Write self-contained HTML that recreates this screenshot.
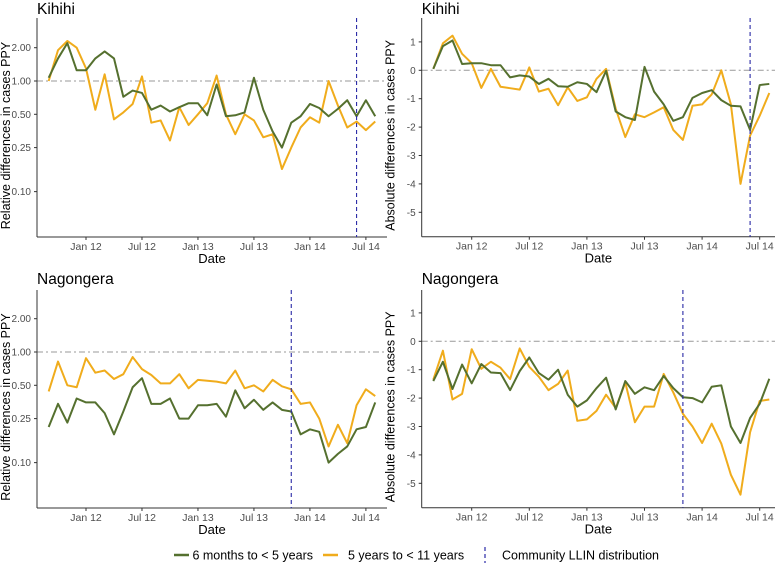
<!DOCTYPE html>
<html><head><meta charset="utf-8"><style>
body{margin:0;background:#fff}
svg{display:block;font-family:"Liberation Sans",Arial,sans-serif}
</style></head><body>
<svg id="chart" width="783" height="565" viewBox="0 0 783 565" xmlns="http://www.w3.org/2000/svg"></svg>
<script>
// months from Sep 2011 (index 0) to Aug 2014 (index 35)
const tickLabels = ["Jan 12","Jul 12","Jan 13","Jul 13","Jan 14","Jul 14"];
const tickMonths = [4,10,16,22,28,34];
const relTicks = [2.00,1.00,0.50,0.25,0.10];
const absTicks = [1,0,-1,-2,-3,-4,-5];
const kihihiRelYoung = [1.07,1.6,2.2,1.25,1.25,1.6,1.85,1.6,0.72,0.82,0.78,0.55,0.6,0.53,0.58,0.63,0.63,0.49,0.93,0.48,0.49,0.52,1.07,0.55,0.35,0.25,0.42,0.48,0.62,0.57,0.48,0.56,0.67,0.48,0.67,0.48];
const kihihiRelOld = [1.0,1.9,2.3,2.0,1.3,0.55,1.15,0.45,0.52,0.62,1.1,0.42,0.44,0.29,0.58,0.4,0.5,0.63,1.12,0.5,0.33,0.5,0.44,0.31,0.33,0.16,0.25,0.38,0.47,0.42,1.0,0.6,0.38,0.43,0.36,0.43];
const kihihiAbsYoung = [0.05,0.85,1.05,0.22,0.25,0.25,0.18,0.18,-0.25,-0.18,-0.22,-0.48,-0.3,-0.56,-0.58,-0.42,-0.48,-0.77,-0.02,-1.45,-1.65,-1.75,0.12,-0.75,-1.2,-1.78,-1.65,-0.97,-0.8,-0.7,-1.05,-1.25,-1.27,-2.1,-0.52,-0.48];
const kihihiAbsOld = [0.05,0.95,1.22,0.58,0.25,-0.62,0.05,-0.58,-0.63,-0.68,0.1,-0.75,-0.65,-1.23,-0.6,-1.08,-0.95,-0.3,0.05,-1.35,-2.35,-1.55,-1.65,-1.48,-1.3,-2.1,-2.45,-1.25,-1.2,-0.85,0,-1.2,-4.0,-2.3,-1.6,-0.8];
const nagRelYoung = [0.21,0.34,0.23,0.38,0.35,0.35,0.28,0.18,0.29,0.48,0.58,0.34,0.34,0.38,0.25,0.25,0.33,0.33,0.34,0.26,0.45,0.31,0.37,0.3,0.35,0.3,0.29,0.18,0.2,0.19,0.1,0.12,0.14,0.2,0.21,0.35];
const nagRelOld = [0.44,0.82,0.5,0.48,0.88,0.65,0.68,0.57,0.63,0.9,0.7,0.62,0.52,0.52,0.63,0.47,0.56,0.55,0.54,0.52,0.68,0.47,0.5,0.44,0.56,0.49,0.46,0.34,0.35,0.25,0.14,0.22,0.15,0.33,0.46,0.4];
const nagAbsYoung = [-1.4,-0.72,-1.68,-0.82,-1.48,-0.8,-1.1,-1.12,-1.72,-1.05,-0.57,-1.12,-1.35,-1.0,-1.88,-2.3,-2.08,-1.65,-1.28,-2.4,-1.4,-1.85,-1.62,-1.72,-1.22,-1.65,-1.97,-2.0,-2.15,-1.6,-1.55,-3.0,-3.58,-2.7,-2.2,-1.32];
const nagAbsOld = [-1.35,-0.33,-2.05,-1.85,-0.28,-0.97,-0.72,-0.93,-1.33,-0.25,-0.9,-1.25,-1.72,-1.5,-1.03,-2.8,-2.75,-2.45,-1.88,-2.35,-1.45,-2.85,-2.3,-2.3,-1.15,-1.8,-2.55,-3.0,-3.58,-2.9,-3.6,-4.7,-5.4,-3.2,-2.1,-2.05];
const llinMonthKihihi = 33;
const llinMonthNag = 26;

const NS="http://www.w3.org/2000/svg";
const svg=document.getElementById('chart');
function mk(tag,attrs,parent){const e=document.createElementNS(NS,tag);for(const k in attrs)e.setAttribute(k,attrs[k]);(parent||svg).appendChild(e);return e;}
const GREEN="#55702f", ORANGE="#f0ac1c";

function panel(o){
  const g=mk('g',{});
  
  
  const xs=m=>o.x0+(m-4)*o.mx;
  const ys=o.log?(v=>o.y1-Math.log2(v)*o.uy):(v=>o.y0-v*o.uy);
  const t=mk('text',{x:o.ax,y:o.titleY,'font-size':15.5,fill:'#000'},g);t.textContent=o.title;
  
  const rl=mk('line',{x1:o.ax,x2:o.right,y1:o.log?ys(1):ys(0),y2:o.log?ys(1):ys(0),stroke:'#999','stroke-width':1,'stroke-dasharray':'6 3 2 3'},g);
  
  const ya=mk('line',{x1:o.ax,x2:o.ax,y1:o.top,y2:o.bottom,stroke:'#333','stroke-width':1},g);
  
  const xa=mk('line',{x1:o.ax,x2:o.right,y1:o.bottom,y2:o.bottom,stroke:'#333','stroke-width':1},g);
  
  const yt=o.log?relTicks:absTicks;
  yt.forEach(v=>{const y=ys(v);
    mk('line',{x1:o.ax-3,x2:o.ax,y1:y,y2:y,stroke:'#333'},g);
    const l=mk('text',{x:o.ax-6,y:y+3.5,'font-size':10,fill:'#4d4d4d','text-anchor':'end'},g);
    l.textContent=o.log?v.toFixed(2):String(v);
    });
  tickMonths.forEach((m,i)=>{const x=xs(m);
    mk('line',{x1:x,x2:x,y1:o.bottom,y2:o.bottom+3,stroke:'#333'},g);
    const l=mk('text',{x:x,y:o.bottom+13,'font-size':10.5,fill:'#4d4d4d','text-anchor':'middle'},g);
    l.textContent=tickLabels[i];
    });
  const xt=mk('text',{x:(o.ax+o.right)/2,y:o.bottom+26,'font-size':13,fill:'#000','text-anchor':'middle'},g);
  xt.textContent='Date';
  const cy=(o.top+o.bottom)/2+8;
  const ytt=mk('text',{x:0,y:0,'font-size':12.5,fill:'#000','text-anchor':'middle',transform:`translate(${o.ax-27},${cy}) rotate(-90)`},g);
  ytt.textContent=o.log?'Relative differences in cases PPY':'Absolute differences in cases PPY';
  
  [[o.old,ORANGE,'series-5-to-11-years'],[o.young,GREEN,'series-6m-to-5-years']].forEach(([d,c,n])=>{
    const p=mk('polyline',{points:d.map((v,i)=>xs(i)+','+ys(v)).join(' '),fill:'none',stroke:c,'stroke-width':2,'stroke-linejoin':'round'},g);
    });
  const vx=xs(o.llin);
  const vl=mk('line',{x1:vx,x2:vx,y1:o.top,y2:o.bottom,stroke:'#2a2aa6','stroke-width':1.1,'stroke-dasharray':'4 3'},g);
  
}
panel({name:'kihihi-relative-panel',title:'Kihihi',titleY:14,log:true,ax:37,right:387,top:18,bottom:237,x0:86,mx:9.33,y1:81,uy:33.3,young:kihihiRelYoung,old:kihihiRelOld,llin:llinMonthKihihi});
panel({name:'kihihi-absolute-panel',title:'Kihihi',titleY:14,log:false,ax:421.7,right:775,top:18,bottom:236.7,x0:471.7,mx:9.6,y0:70.3,uy:28.4,young:kihihiAbsYoung,old:kihihiAbsOld,llin:llinMonthKihihi});
panel({name:'nagongera-relative-panel',title:'Nagongera',titleY:284,log:true,ax:37,right:387,top:290,bottom:508,x0:86,mx:9.33,y1:352,uy:33.3,young:nagRelYoung,old:nagRelOld,llin:llinMonthNag});
panel({name:'nagongera-absolute-panel',title:'Nagongera',titleY:284,log:false,ax:421.7,right:775,top:290,bottom:507.7,x0:471.7,mx:9.6,y0:341.3,uy:28.4,young:nagAbsYoung,old:nagAbsOld,llin:llinMonthNag});

const lg=mk('g',{});


const LY=555;
mk('line',{x1:174,x2:189,y1:LY,y2:LY,stroke:GREEN,'stroke-width':2.5},lg);
let tx=mk('text',{x:313,y:LY+4.5,'font-size':12.5,fill:'#000','text-anchor':'end'},lg);tx.textContent='6 months to < 5 years';

mk('line',{x1:323,x2:338,y1:LY,y2:LY,stroke:ORANGE,'stroke-width':2.5},lg);
tx=mk('text',{x:348,y:LY+4.5,'font-size':12.5,fill:'#000'},lg);tx.textContent='5 years to < 11 years';

mk('line',{x1:485,x2:485,y1:LY-8,y2:LY+8,stroke:'#2a2aa6','stroke-width':1.2,'stroke-dasharray':'4 3'},lg);
tx=mk('text',{x:502,y:LY+4.5,'font-size':12.5,fill:'#000'},lg);tx.textContent='Community LLIN distribution';

</script>
</body></html>
